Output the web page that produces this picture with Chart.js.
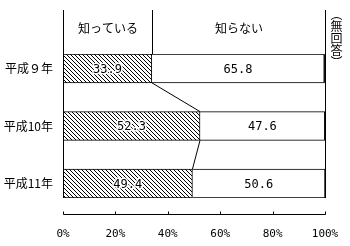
<!DOCTYPE html>
<html>
<head>
<meta charset="utf-8">
<script src="https://cdn.jsdelivr.net/npm/chart.js@4"></script>
<style>
  body { margin: 0; background: #fff; }
  #wrap { position: relative; width: 350px; height: 246px; }
  #semResp {
    position: absolute; left: 329px; top: 8px;
    writing-mode: vertical-rl;
    font: 12px "Noto Sans CJK JP", sans-serif;
    line-height: 14px; color: #000;
  }
</style>
</head>
<body>
<div id="wrap"><canvas id="grafico"></canvas><div id="semResp"></div></div>
<script>
const anos = ['平成９年', '', '平成10年', '', '平成11年'];
const conhece = [33.9, null, 52.3, null, 49.4];
const naoConhece = [65.8, null, 47.6, null, 50.6];
const semResposta = [0.3, null, 0.1, null, 0.0];
const ticksX = [0, 20, 40, 60, 80, 100];
const cabecalho = ['知っている', '知らない', '（無回答）'];

document.getElementById('semResp').textContent = cabecalho[2];

function hachura() {
  const c = document.createElement('canvas');
  c.width = 4; c.height = 4;
  const g = c.getContext('2d');
  g.fillStyle = '#fff';
  g.fillRect(0, 0, 4, 4);
  g.fillStyle = '#000';
  for (let i = 0; i < 4; i++) g.fillRect(i, i, 1, 1);
  return g.createPattern(c, 'repeat');
}

const fonteJp = '"Noto Sans CJK JP", sans-serif';

const desenhos = {
  id: 'desenhos',
  afterDraw(chart) {
    const ctx = chart.ctx;
    const x = chart.scales.x;
    const area = chart.chartArea;
    const topo = 10;
    const barras = chart.getDatasetMeta(0).data;
    ctx.save();
    ctx.strokeStyle = '#000';
    ctx.lineWidth = 1;

    const linha = (x1, y1, x2, y2) => {
      ctx.beginPath();
      ctx.moveTo(x1, y1);
      ctx.lineTo(x2, y2);
      ctx.stroke();
    };
    const x0 = Math.round(x.getPixelForValue(0)) + 0.5;
    const x100 = Math.round(x.getPixelForValue(100)) + 0.5;
    const xDiv = Math.round(x.getPixelForValue(conhece[0])) + 0.5;
    linha(x0, topo, x0, area.bottom);
    linha(x100, topo, x100, area.bottom);
    linha(xDiv, topo, xDiv, area.top);

    // linhas de ligação entre os anos
    const idx = [0, 2, 4];
    for (let k = 0; k < idx.length - 1; k++) {
      const a = barras[idx[k]], b = barras[idx[k + 1]];
      linha(x.getPixelForValue(conhece[idx[k]]), a.y + a.height / 2,
            x.getPixelForValue(conhece[idx[k + 1]]), b.y - b.height / 2);
    }

    // eixo x separado
    const yEixo = 214.5;
    linha(x0, yEixo, x100, yEixo);
    ticksX.forEach(v => {
      const px = Math.round(x.getPixelForValue(v)) + 0.5;
      linha(px, yEixo - 3, px, yEixo);
    });

    // cabeçalho
    ctx.fillStyle = '#000';
    ctx.font = '12px ' + fonteJp;
    ctx.textAlign = 'center';
    ctx.textBaseline = 'middle';
    ctx.fillText(cabecalho[0], (x0 + xDiv) / 2, 28);
    ctx.fillText(cabecalho[1], (xDiv + x100) / 2, 28);

    // valores
    ctx.font = '12px "DejaVu Sans Mono", monospace';
    ctx.lineJoin = 'round';
    [conhece, naoConhece].forEach((serie, s) => {
      const meta = chart.getDatasetMeta(s);
      serie.forEach((v, i) => {
        if (v == null) return;
        const el = meta.data[i];
        const cx = (el.x + el.base) / 2;
        const txt = v.toFixed(1);
        ctx.strokeStyle = '#fff';
        ctx.lineWidth = 3;
        ctx.strokeText(txt, cx, el.y + 1);
        ctx.fillStyle = '#000';
        ctx.fillText(txt, cx, el.y + 1);
      });
    });
    ctx.restore();
  }
};

new Chart(document.getElementById('grafico'), {
  type: 'bar',
  data: {
    labels: anos,
    datasets: [
      { label: '知っている', data: conhece, backgroundColor: hachura(), borderColor: '#000', borderWidth: 1 },
      { label: '知らない', data: naoConhece, backgroundColor: '#fff', borderColor: '#000', borderWidth: 1 },
      { label: '無回答', data: semResposta, backgroundColor: '#000', borderColor: '#000', borderWidth: 1 }
    ]
  },
  options: {
    indexAxis: 'y',
    responsive: true,
    maintainAspectRatio: false,
    animation: false,
    categoryPercentage: 1,
    barPercentage: 1,
    layout: { padding: { top: 54, right: 25, left: 0, bottom: 0 } },
    plugins: { legend: { display: false }, tooltip: { enabled: false } },
    scales: {
      x: {
        stacked: true,
        min: 0,
        max: 100,
        afterBuildTicks(scale) { scale.ticks = ticksX.map(v => ({ value: v })); },
        afterFit(scale) {
          scale.height = 48;
          scale.paddingLeft = 0;
          scale.paddingRight = 0;
        },
        grid: { display: false, drawTicks: false },
        border: { display: false },
        ticks: {
          padding: 30,
          maxRotation: 0,
          color: '#000',
          font: { size: 11, family: '"DejaVu Sans Mono", monospace' },
          callback: v => v + '%'
        }
      },
      y: {
        stacked: true,
        afterFit(scale) { scale.width = 63; },
        grid: { display: false, drawTicks: false },
        border: { display: false },
        ticks: {
          padding: 10,
          color: '#000',
          font: { size: 12, family: fonteJp }
        }
      }
    }
  },
  plugins: [desenhos]
});
</script>
</body>
</html>
